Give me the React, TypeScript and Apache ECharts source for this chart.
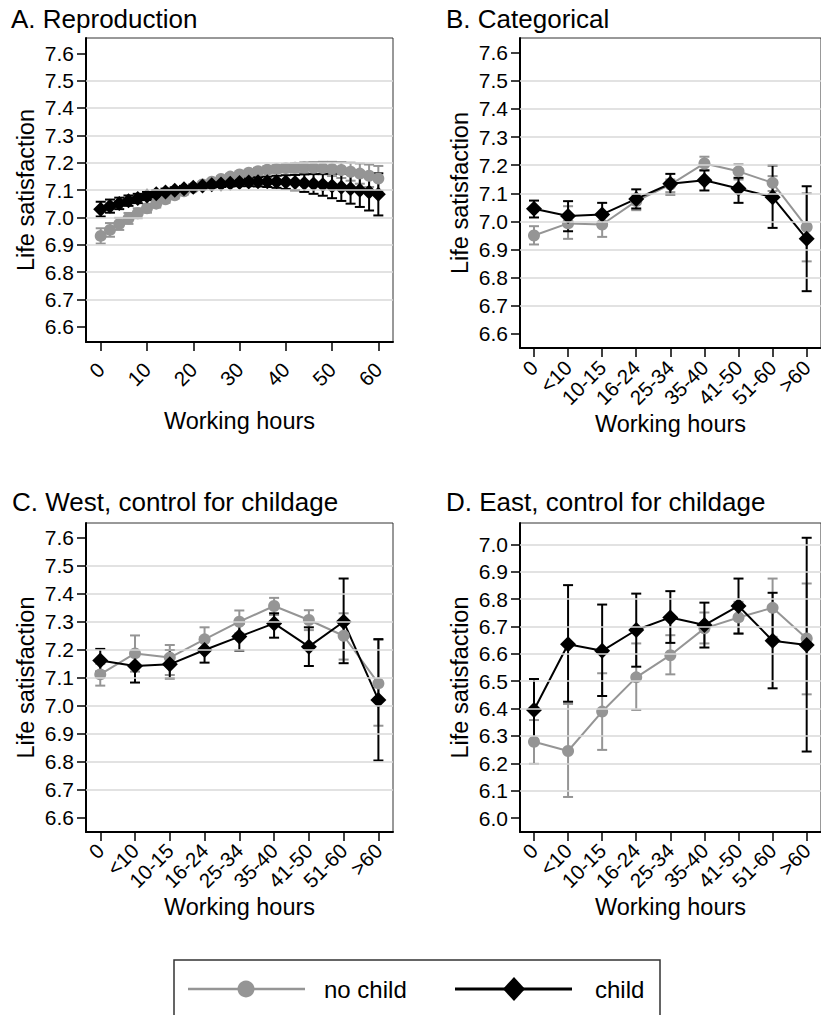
import React, { useEffect, useRef } from "react";
import * as echarts from "echarts";

// ---------- Data ----------
const hoursA = [0, 2, 4, 6, 8, 10, 12, 14, 16, 18, 20, 22, 24, 26, 28, 30, 32, 34, 36, 38, 40, 42, 44, 46, 48, 50, 52, 54, 56, 58, 60];
const aNoChild = [6.932, 6.954, 6.976, 6.996, 7.015, 7.033, 7.050, 7.066, 7.081, 7.095, 7.108, 7.120, 7.130, 7.140, 7.149, 7.157, 7.163, 7.169, 7.174, 7.177, 7.180, 7.181, 7.182, 7.181, 7.180, 7.177, 7.173, 7.167, 7.160, 7.152, 7.142];
const aNoChildCI = [0.028, 0.025, 0.022, 0.020, 0.018, 0.016, 0.014, 0.013, 0.012, 0.011, 0.010, 0.010, 0.010, 0.010, 0.010, 0.011, 0.011, 0.012, 0.013, 0.014, 0.015, 0.017, 0.019, 0.021, 0.023, 0.026, 0.029, 0.033, 0.037, 0.041, 0.046];
const aChild = [7.030, 7.041, 7.051, 7.061, 7.069, 7.078, 7.086, 7.093, 7.099, 7.105, 7.110, 7.115, 7.119, 7.122, 7.125, 7.127, 7.129, 7.130, 7.130, 7.130, 7.129, 7.127, 7.125, 7.122, 7.119, 7.115, 7.110, 7.105, 7.099, 7.093, 7.084];
const aChildCI = [0.027, 0.024, 0.021, 0.019, 0.017, 0.015, 0.013, 0.012, 0.011, 0.010, 0.010, 0.010, 0.010, 0.011, 0.012, 0.013, 0.015, 0.017, 0.019, 0.022, 0.025, 0.028, 0.032, 0.036, 0.040, 0.045, 0.050, 0.055, 0.061, 0.068, 0.077];

const categories = ["0", "<10", "10-15", "16-24", "25-34", "35-40", "41-50", "51-60", ">60"];

const bNoChild = [6.950, 6.993, 6.989, 7.072, 7.131, 7.206, 7.178, 7.137, 6.980];
const bNoChildLo = [6.918, 6.938, 6.945, 7.040, 7.104, 7.183, 7.149, 7.108, 6.858];
const bNoChildHi = [6.983, 7.054, 7.030, 7.096, 7.149, 7.230, 7.203, 7.161, 7.100];
const bChild = [7.045, 7.019, 7.025, 7.080, 7.134, 7.146, 7.117, 7.086, 6.938];
const bChildLo = [7.014, 6.965, 6.983, 7.046, 7.096, 7.110, 7.066, 6.977, 6.752];
const bChildHi = [7.074, 7.072, 7.066, 7.114, 7.169, 7.181, 7.155, 7.199, 7.125];

const cNoChild = [7.112, 7.187, 7.172, 7.237, 7.300, 7.356, 7.306, 7.250, 7.080];
const cNoChildLo = [7.072, 7.122, 7.110, 7.193, 7.258, 7.324, 7.270, 7.165, 6.929];
const cNoChildHi = [7.150, 7.251, 7.217, 7.280, 7.340, 7.385, 7.341, 7.330, 7.235];
const cChild = [7.162, 7.142, 7.148, 7.199, 7.247, 7.294, 7.211, 7.300, 7.021];
const cChildLo = [7.122, 7.083, 7.098, 7.154, 7.197, 7.243, 7.142, 7.152, 6.805];
const cChildHi = [7.203, 7.187, 7.199, 7.240, 7.292, 7.330, 7.280, 7.454, 7.238];

const dNoChild = [6.279, 6.245, 6.389, 6.514, 6.595, 6.693, 6.733, 6.768, 6.656];
const dNoChildLo = [6.198, 6.077, 6.249, 6.395, 6.525, 6.638, 6.674, 6.662, 6.452];
const dNoChildHi = [6.358, 6.417, 6.529, 6.638, 6.668, 6.751, 6.790, 6.875, 6.857];
const dChild = [6.395, 6.635, 6.611, 6.687, 6.733, 6.705, 6.775, 6.648, 6.632];
const dChildLo = [6.286, 6.425, 6.446, 6.553, 6.640, 6.623, 6.674, 6.474, 6.243];
const dChildHi = [6.508, 6.851, 6.780, 6.820, 6.829, 6.787, 6.875, 6.823, 7.024];

const yTicksMain = [6.6, 6.7, 6.8, 6.9, 7.0, 7.1, 7.2, 7.3, 7.4, 7.5, 7.6];
const yGridMain = [6.7, 6.8, 6.9, 7.0, 7.1, 7.2, 7.3, 7.4, 7.5];
const yTicksD = [6.0, 6.1, 6.2, 6.3, 6.4, 6.5, 6.6, 6.7, 6.8, 6.9, 7.0];
const yGridD = [6.1, 6.2, 6.3, 6.4, 6.5, 6.6, 6.7, 6.8, 6.9, 7.0];
const xTicksA = [0, 10, 20, 30, 40, 50, 60];
const xTicksCat = [0, 1, 2, 3, 4, 5, 6, 7, 8];

const titles = ["A. Reproduction", "B. Categorical", "C. West, control for childage", "D. East, control for childage"];
const legendLabels = ["no child", "child"];

// ---------- Styling ----------
const FONT = "Liberation Sans, Arial, Helvetica, sans-serif";
const GRAY = "#959595";
const BLACK = "#000000";

function errorBarRender(color: string, lw: number, capHalf: number) {
  return (params: any, api: any) => {
    const x = api.value(0);
    const lo = api.value(1);
    const hi = api.value(2);
    const pLo = api.coord([x, lo]);
    const pHi = api.coord([x, hi]);
    const st = { stroke: color, lineWidth: lw };
    return {
      type: "group",
      children: [
        { type: "line", shape: { x1: pLo[0], y1: pLo[1], x2: pHi[0], y2: pHi[1] }, style: st },
        { type: "line", shape: { x1: pLo[0] - capHalf, y1: pLo[1], x2: pLo[0] + capHalf, y2: pLo[1] }, style: st },
        { type: "line", shape: { x1: pHi[0] - capHalf, y1: pHi[1], x2: pHi[0] + capHalf, y2: pHi[1] }, style: st },
      ],
    };
  };
}

type Panel = {
  grid: { left: number; top: number; width: number; height: number };
  xMin: number; xMax: number; xTicks: number[]; xFormatter?: (v: number) => string;
  yMin: number; yMax: number; yTicks: number[]; yGrid: number[];
  xs: number[];
  g: number[]; gLo: number[]; gHi: number[];
  k: number[]; kLo: number[]; kHi: number[];
  labelMargin: number; nameGap: number;
  gSize: number; kSize: number;
};

const catFmt = (v: number) => categories[Math.round(v)] ?? "";

const panels: Panel[] = [
  {
    grid: { left: 86, top: 38, width: 307, height: 304 },
    xMin: -3.18, xMax: 63.17, xTicks: xTicksA,
    yMin: 6.544, yMax: 7.656, yTicks: yTicksMain, yGrid: yGridMain,
    xs: hoursA,
    g: aNoChild, gLo: aNoChild.map((v, i) => v - aNoChildCI[i]), gHi: aNoChild.map((v, i) => v + aNoChildCI[i]),
    k: aChild, kLo: aChild.map((v, i) => v - aChildCI[i]), kHi: aChild.map((v, i) => v + aChildCI[i]),
    labelMargin: 24, nameGap: 67, gSize: 12, kSize: 15,
  },
  {
    grid: { left: 520, top: 38, width: 307, height: 310 },
    xMin: -0.41, xMax: 8.42, xTicks: xTicksCat, xFormatter: catFmt,
    yMin: 6.55, yMax: 7.652, yTicks: yTicksMain, yGrid: yGridMain,
    xs: xTicksCat,
    g: bNoChild, gLo: bNoChildLo, gHi: bNoChildHi,
    k: bChild, kLo: bChildLo, kHi: bChildHi,
    labelMargin: 16, nameGap: 63, gSize: 12, kSize: 16,
  },
  {
    grid: { left: 86, top: 523, width: 307, height: 309 },
    xMin: -0.41, xMax: 8.42, xTicks: xTicksCat, xFormatter: catFmt,
    yMin: 6.55, yMax: 7.652, yTicks: yTicksMain, yGrid: yGridMain,
    xs: xTicksCat,
    g: cNoChild, gLo: cNoChildLo, gHi: cNoChildHi,
    k: cChild, kLo: cChildLo, kHi: cChildHi,
    labelMargin: 15, nameGap: 62, gSize: 12, kSize: 16,
  },
  {
    grid: { left: 520, top: 523, width: 307, height: 309 },
    xMin: -0.41, xMax: 8.42, xTicks: xTicksCat, xFormatter: catFmt,
    yMin: 5.949, yMax: 7.078, yTicks: yTicksD, yGrid: yGridD,
    xs: xTicksCat,
    g: dNoChild, gLo: dNoChildLo, gHi: dNoChildHi,
    k: dChild, kLo: dChildLo, kHi: dChildHi,
    labelMargin: 15, nameGap: 59, gSize: 12, kSize: 16,
  },
];

const titlePos = [
  { left: 11, top: 6 },
  { left: 446, top: 6 },
  { left: 12, top: 489 },
  { left: 446, top: 489 },
];

function buildOption() {
  const grid: any[] = [];
  const xAxis: any[] = [];
  const yAxis: any[] = [];
  const series: any[] = [];
  const title: any[] = [];

  panels.forEach((p, i) => {
    grid.push({ ...p.grid, show: true, borderColor: "#333", borderWidth: 1, backgroundColor: "#fff", containLabel: false });
    xAxis.push({
      gridIndex: i, type: "value", min: p.xMin, max: p.xMax,
      axisLine: { show: true, onZero: false, lineStyle: { color: "#000", width: 2 } },
      axisTick: { show: true, length: 9, customValues: p.xTicks, lineStyle: { color: "#000", width: 1.5 } },
      axisLabel: {
        customValues: p.xTicks, rotate: 45, margin: p.labelMargin, fontSize: 20.5, fontFamily: FONT, color: "#000",
        formatter: p.xFormatter ? (v: number) => p.xFormatter!(v) : (v: number) => String(v),
      },
      splitLine: { show: false },
      name: "Working hours", nameLocation: "middle", nameGap: p.nameGap,
      nameTextStyle: { fontSize: 23.5, fontFamily: FONT, color: "#000" },
    });
    yAxis.push({
      gridIndex: i, type: "value", min: p.yMin, max: p.yMax,
      axisLine: { show: true, onZero: false, lineStyle: { color: "#000", width: 2 } },
      axisTick: { show: true, length: 9, customValues: p.yTicks, lineStyle: { color: "#000", width: 1.5 } },
      axisLabel: {
        customValues: p.yTicks, margin: 12, fontSize: 21, fontFamily: FONT, color: "#000",
        formatter: (v: number) => v.toFixed(1),
      },
      splitLine: { show: false },
      name: "Life satisfaction", nameLocation: "middle", nameGap: 48, nameRotate: 90,
      nameTextStyle: { fontSize: 23.5, fontFamily: FONT, color: "#000" },
    });

    const gErr = p.xs.map((x, j) => [x, p.gLo[j], p.gHi[j]]);
    const kErr = p.xs.map((x, j) => [x, p.kLo[j], p.kHi[j]]);

    series.push({
      type: "custom", xAxisIndex: i, yAxisIndex: i, silent: true,
      renderItem: errorBarRender(GRAY, 2, 5),
      encode: { x: 0, y: [1, 2] },
      data: gErr,
      markLine: {
        silent: true, symbol: ["none", "none"], label: { show: false },
        lineStyle: { color: "#d9d9d9", width: 1.5, type: "solid" },
        emphasis: { disabled: true },
        data: p.yGrid.map((v) => ({ yAxis: v })),
      },
    });
    series.push({
      type: "line", name: legendLabels[0], xAxisIndex: i, yAxisIndex: i, silent: true,
      data: p.xs.map((x, j) => [x, p.g[j]]),
      symbol: "circle", symbolSize: p.gSize,
      lineStyle: { color: GRAY, width: 2 },
      itemStyle: { color: GRAY },
    });
    series.push({
      type: "custom", xAxisIndex: i, yAxisIndex: i, silent: true,
      renderItem: errorBarRender(BLACK, 2, 5),
      encode: { x: 0, y: [1, 2] },
      data: kErr,
    });
    series.push({
      type: "line", name: legendLabels[1], xAxisIndex: i, yAxisIndex: i, silent: true,
      data: p.xs.map((x, j) => [x, p.k[j]]),
      symbol: "diamond", symbolSize: p.kSize,
      lineStyle: { color: BLACK, width: 2 },
      itemStyle: { color: BLACK },
    });

    title.push({
      text: titles[i], left: titlePos[i].left, top: titlePos[i].top, padding: 0,
      textStyle: { fontSize: 26, fontWeight: "normal", fontFamily: FONT, color: "#000" },
    });
  });

  const ly = 989;
  const graphic = [
    { type: "rect", silent: true, shape: { x: 174, y: 960, width: 486, height: 90 }, style: { fill: "none", stroke: "#333", lineWidth: 1.5 } },
    { type: "line", silent: true, shape: { x1: 188, y1: ly, x2: 305, y2: ly }, style: { stroke: GRAY, lineWidth: 2.5 } },
    { type: "circle", silent: true, shape: { cx: 246, cy: ly, r: 8.5 }, style: { fill: GRAY } },
    { type: "text", silent: true, x: 324, y: ly, style: { text: legendLabels[0], fontSize: 24, fontFamily: FONT, fill: "#000", verticalAlign: "middle", align: "left" } },
    { type: "line", silent: true, shape: { x1: 455, y1: ly, x2: 572, y2: ly }, style: { stroke: BLACK, lineWidth: 3 } },
    { type: "polygon", silent: true, shape: { points: [[514, ly - 12], [525, ly], [514, ly + 12], [503, ly]] }, style: { fill: BLACK } },
    { type: "text", silent: true, x: 595, y: ly, style: { text: legendLabels[1], fontSize: 24, fontFamily: FONT, fill: "#000", verticalAlign: "middle", align: "left" } },
  ];

  return {
    animation: false,
    backgroundColor: "#fff",
    title,
    grid,
    xAxis,
    yAxis,
    series,
    graphic,
  };
}

export default function App() {
  const ref = useRef<HTMLDivElement>(null);
  useEffect(() => {
    if (!ref.current) return;
    const chart = echarts.init(ref.current, undefined, { renderer: "svg" });
    chart.setOption(buildOption() as any);
    return () => chart.dispose();
  }, []);
  return (
    <div style={{ position: "fixed", left: 0, top: 0, width: 821, height: 1015, background: "#fff" }}>
      <div ref={ref} style={{ width: 821, height: 1015 }} />
    </div>
  );
}
